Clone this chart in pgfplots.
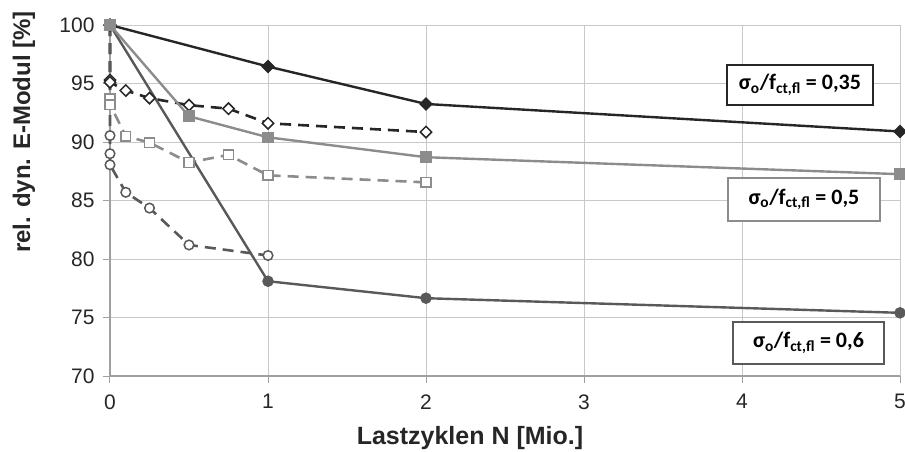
\documentclass[border=0pt]{standalone}
\usepackage{fontspec}
\setmainfont{Liberation Sans}
\newfontfamily\boxfont{Carlito}
\usepackage{pgfplots}
\pgfplotsset{compat=1.18}

\definecolor{cBlack}{RGB}{38,38,38}
\definecolor{cGray}{RGB}{140,140,140}
\definecolor{cDark}{RGB}{89,89,89}
\definecolor{cGrid}{RGB}{200,200,200}
\definecolor{cAxis}{RGB}{160,160,160}

\newcommand{\ratio}[1]{{\boxfont\bfseries\fontsize{22}{26}\selectfont
  σ\textsubscript{o}/f\textsubscript{ct,fl} = #1}}

\begin{document}
\begin{tikzpicture}
\path[use as bounding box] (-110pt,-75pt) rectangle (795pt,376pt);
\begin{axis}[
    scale only axis, width=790pt, height=351pt,
    xmin=0, xmax=5, ymin=70, ymax=100,
    xtick={0,1,2,3,4,5}, ytick={70,75,80,85,90,95,100},
    axis x line=bottom, axis y line=left,
    axis line style={-, draw=cAxis, line width=1.2pt},
    grid=major, major grid style={draw=cGrid, line width=1pt},
    tick align=outside, major tick length=7pt,
    tick style={draw=cAxis, line width=1pt},
    ticklabel style={font=\fontsize{21}{25}\selectfont, text=cBlack},
    yticklabel style={xshift=-5pt},
    xticklabel style={yshift=-8pt},
    /pgf/number format/assume math mode=true,
    clip=false,
]

% dashed series (open markers)
\addplot[cBlack, line width=2.6pt, dash pattern=on 11pt off 7pt,
    mark=square*, mark size=4pt,
    mark options={solid, rotate=45, fill=white, draw=cBlack, line width=1.5pt}]
    coordinates {(0,100) (0,95.3) (0,95.1) (0.1,94.4) (0.25,93.75) (0.5,93.15)
                 (0.75,92.85) (1,91.6) (2,90.85)};

\addplot[cGray, line width=2.6pt, dash pattern=on 11pt off 7pt,
    mark=square*, mark size=4.8pt,
    mark options={solid, fill=white, draw=cGray, line width=1.5pt}]
    coordinates {(0,100) (0,93.7) (0,93.2) (0.1,90.5) (0.25,89.95) (0.5,88.25)
                 (0.75,88.9) (1,87.15) (2,86.55)};

\addplot[cDark, line width=2.6pt, dash pattern=on 11pt off 7pt,
    mark=*, mark size=4.8pt,
    mark options={solid, fill=white, draw=cDark, line width=1.5pt}]
    coordinates {(0,100) (0,90.55) (0,89.0) (0,88.05) (0.1,85.7) (0.25,84.35)
                 (0.5,81.2) (1,80.3)};

% solid series (filled markers)
\addplot[cBlack, line width=2.4pt, mark=square*, mark size=3.6pt,
    mark options={rotate=45, fill=cBlack, draw=cBlack}]
    coordinates {(0,100) (1,96.45) (2,93.25) (5,90.9)};

\addplot[cDark, line width=2.4pt, mark=*, mark size=4.5pt,
    mark options={fill=cDark, draw=cDark}]
    coordinates {(0,100) (1,78.1) (2,76.65) (5,75.4)};

\addplot[cGray, line width=2.4pt, mark=square*, mark size=4.6pt,
    mark options={fill=cGray, draw=cGray}]
    coordinates {(0,100) (0.5,92.2) (1,90.4) (2,88.7) (5,87.25)};

% ratio boxes
\node[draw=cBlack, line width=1.8pt, fill=white, minimum width=146pt,
    minimum height=40pt, inner sep=0pt] at (axis cs:4.367,94.87) {\ratio{0,35}};
\node[draw=cGray, line width=1.8pt, fill=white, minimum width=152pt,
    minimum height=43pt, inner sep=0pt] at (axis cs:4.392,85.09) {\ratio{0,5}};
\node[draw=cDark, line width=1.8pt, fill=white, minimum width=151pt,
    minimum height=42pt, inner sep=0pt] at (axis cs:4.421,72.82) {\ratio{0,6}};
\end{axis}

\node[rotate=90, font=\bfseries\fontsize{24}{28}\selectfont, text=cBlack]
    at (-86pt,244pt) {rel. dyn. E-Modul [\%]};
\node[font=\bfseries\fontsize{25}{29}\selectfont, text=cBlack]
    at (360pt,-62pt) {Lastzyklen N [Mio.]};
\end{tikzpicture}
\end{document}
